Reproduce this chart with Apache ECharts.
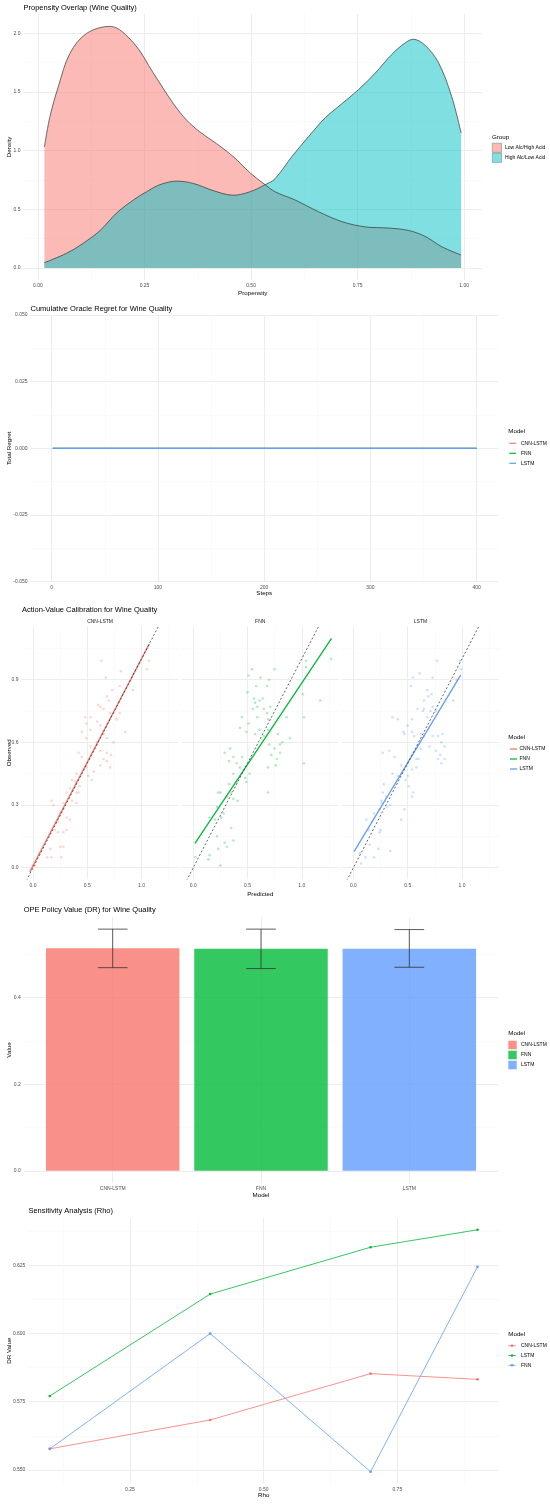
<!DOCTYPE html>
<html><head><meta charset="utf-8">
<script src="https://cdn.jsdelivr.net/npm/echarts@6/dist/echarts.min.js"></script>
<style>html,body{margin:0;padding:0;background:#fff}#c{width:550px;height:1504px}</style>
</head><body><div id="c"></div><script>
// ---------- DATA ----------
// Panel 1: propensity densities
const lowX  = [0.015,0.028,0.048,0.075,0.114,0.169,0.224,0.271,0.318,0.349,0.380,0.419,0.458,0.498,0.533,0.556,0.603,0.658,0.713,0.768,0.822,0.869,0.908,0.948,0.993];
const lowD  = [1.03,1.29,1.55,1.83,2.00,2.06,1.92,1.66,1.40,1.26,1.16,1.06,0.95,0.81,0.71,0.65,0.58,0.48,0.395,0.35,0.34,0.32,0.27,0.18,0.11];
const highX = [0.015,0.067,0.106,0.146,0.185,0.224,0.255,0.286,0.326,0.365,0.411,0.458,0.498,0.533,0.556,0.596,0.635,0.674,0.713,0.752,0.791,0.830,0.862,0.881,0.908,0.940,0.971,0.993];
const highD = [0.045,0.125,0.21,0.32,0.47,0.58,0.65,0.71,0.74,0.72,0.66,0.62,0.65,0.71,0.76,0.95,1.12,1.28,1.40,1.52,1.66,1.82,1.92,1.95,1.90,1.75,1.46,1.15];
const groups = ['Low Alc/High Acid','High Alc/Low Acid'];
const p1XTicks = [0,0.25,0.5,0.75,1], p1XMinor = [0.125,0.375,0.625,0.875];
const p1YTicks = [0,0.5,1,1.5,2], p1YMinor = [0.25,0.75,1.25,1.75];

// Panel 2: cumulative regret
const models = ['CNN-LSTM','FNN','LSTM'];
const regretSteps = [1,400];
const regretCNN = [0,0], regretFNN = [0,0], regretLSTM = [0,0];
const p2XTicks = [0,100,200,300,400], p2XMinor = [50,150,250,350];
const p2YTicks = [-0.05,-0.025,0,0.025,0.05], p2YMinor = [-0.0375,-0.0125,0.0125,0.0375];

// Panel 3: calibration (predicted, observed)
const cnnCalib = [[0.63,0.99],[1.07,0.99],[0.81,0.94],[0.67,0.91],[0.80,0.87],[0.73,0.85],[0.68,0.82],[0.70,0.80],[0.60,0.78],[0.62,0.77],[0.65,0.76],[0.71,0.74],[0.53,0.72],[0.48,0.72],[0.49,0.69],[0.59,0.70],[0.62,0.68],[0.45,0.65],[0.53,0.66],[0.49,0.62],[0.65,0.64],[0.68,0.62],[0.74,0.60],[0.59,0.60],[0.53,0.58],[0.85,0.65],[0.62,0.56],[0.68,0.55],[0.72,0.54],[0.65,0.52],[0.62,0.49],[0.68,0.51],[0.71,0.48],[0.42,0.55],[0.45,0.53],[0.49,0.48],[0.56,0.46],[0.51,0.44],[0.54,0.42],[0.40,0.45],[0.39,0.41],[0.36,0.42],[0.34,0.38],[0.43,0.39],[0.40,0.36],[0.42,0.36],[0.31,0.36],[0.36,0.32],[0.40,0.31],[0.28,0.31],[0.17,0.32],[0.19,0.30],[0.25,0.26],[0.31,0.24],[0.34,0.23],[0.23,0.22],[0.20,0.18],[0.23,0.17],[0.28,0.17],[0.16,0.09],[0.13,0.05],[0.17,0.05],[0.26,0.05],[0.28,0.10],[0.25,0.10],[0.00,0.01],[0.02,0.01],[0.06,0.07],[0.31,0.18],[0.80,0.74],[1.05,0.95],[0.92,0.85],[0.77,0.71]];
const fnnCalib = [[0.51,0.92],[0.54,0.95],[0.62,0.91],[0.70,0.90],[0.75,0.95],[0.68,0.87],[0.58,0.87],[0.56,0.81],[0.64,0.81],[0.61,0.80],[0.57,0.79],[0.59,0.77],[0.65,0.76],[0.68,0.74],[0.71,0.77],[0.55,0.76],[0.45,0.72],[0.51,0.69],[0.43,0.67],[0.49,0.65],[0.57,0.64],[0.61,0.66],[0.65,0.63],[0.69,0.71],[0.69,0.66],[0.86,0.72],[0.89,0.62],[0.78,0.64],[0.80,0.59],[0.82,0.60],[0.70,0.59],[0.75,0.57],[0.72,0.54],[0.77,0.52],[0.76,0.49],[0.80,0.55],[1.02,0.72],[1.02,0.50],[1.01,0.83],[1.04,0.99],[1.04,0.96],[1.17,0.80],[1.27,1.00],[0.34,0.57],[0.37,0.53],[0.29,0.55],[0.33,0.51],[0.40,0.50],[0.45,0.53],[0.43,0.48],[0.37,0.45],[0.40,0.41],[0.49,0.41],[0.52,0.45],[0.48,0.43],[0.33,0.40],[0.35,0.36],[0.31,0.34],[0.37,0.33],[0.41,0.32],[0.25,0.36],[0.23,0.36],[0.22,0.29],[0.26,0.24],[0.15,0.24],[0.20,0.23],[0.28,0.26],[0.35,0.19],[0.37,0.13],[0.29,0.12],[0.31,0.10],[0.22,0.15],[0.23,0.09],[0.14,0.04],[0.15,0.06],[0.25,0.01],[0.02,0.05],[0.69,0.36],[0.69,0.48],[0.59,0.72],[0.50,0.84]];
const lstmCalib = [[0.77,0.99],[0.98,0.99],[0.99,0.95],[0.61,0.93],[0.55,0.91],[0.53,0.87],[0.73,0.91],[0.68,0.85],[0.65,0.80],[0.69,0.82],[0.72,0.83],[0.65,0.76],[0.59,0.76],[0.64,0.75],[0.73,0.77],[0.71,0.75],[0.76,0.75],[0.68,0.72],[0.54,0.71],[0.36,0.72],[0.41,0.71],[0.50,0.68],[0.46,0.65],[0.47,0.64],[0.54,0.65],[0.56,0.63],[0.62,0.64],[0.65,0.63],[0.73,0.63],[0.78,0.63],[0.82,0.64],[0.81,0.60],[0.84,0.58],[0.80,0.54],[0.78,0.52],[0.81,0.50],[0.84,0.52],[0.76,0.56],[0.70,0.58],[0.62,0.57],[0.60,0.52],[0.58,0.52],[0.58,0.48],[0.54,0.47],[0.50,0.44],[0.48,0.42],[0.51,0.39],[0.55,0.36],[0.54,0.34],[0.44,0.49],[0.38,0.53],[0.33,0.56],[0.27,0.55],[0.36,0.45],[0.41,0.44],[0.28,0.40],[0.27,0.36],[0.30,0.34],[0.26,0.32],[0.26,0.31],[0.34,0.30],[0.31,0.29],[0.47,0.28],[0.44,0.23],[0.24,0.28],[0.19,0.26],[0.17,0.22],[0.12,0.23],[0.14,0.18],[0.25,0.18],[0.24,0.17],[0.23,0.09],[0.34,0.08],[0.15,0.11],[0.06,0.07],[0.07,0.02],[0.11,0.05],[0.19,0.05],[0.92,0.80],[0.95,0.90]];
const cnnFit  = [[-0.03,-0.02],[1.07,1.07]];
const fnnFit  = [[0.016,0.117],[1.274,1.098]];
const lstmFit = [[0.006,0.077],[0.988,0.922]];
const identityRef = [[-0.3,-0.3],[1.6,1.6]];
const p3XTicks = [0,0.5,1], p3XMinor = [0.25,0.75,1.25];
const p3YTicks = [0,0.3,0.6,0.9], p3YMinor = [0.15,0.45,0.75,1.05];

// Panel 4: OPE policy value (DR)
const opeValue = [0.514,0.513,0.513];
const opeLow   = [0.469,0.467,0.470];
const opeHigh  = [0.558,0.558,0.557];
const p4YTicks = [0,0.2,0.4], p4YMinor = [0.1,0.3,0.5];

// Panel 5: sensitivity
const rho = [0.1,0.4,0.7,0.9];
const rhoCNN  = [0.5577,0.5683,0.5853,0.5832];
const rhoLSTM = [0.5771,0.6145,0.6317,0.6381];
const rhoFNN  = [0.5577,0.6000,0.5493,0.6245];
const sensModels = ['CNN-LSTM','LSTM','FNN'];
const p5XTicks = [0.25,0.5,0.75], p5XMinor = [0.125,0.375,0.625,0.875];
const p5YTicks = [0.55,0.575,0.6,0.625], p5YMinor = [0.5625,0.5875,0.6125,0.6375];

// ---------- STYLE ----------
const FONT = 'Liberation Sans';
const RED = '#F8766D', GREEN = '#00BA38', BLUE = '#619CFF', TEAL = '#00BFC4';
const colorOf = {'CNN-LSTM':RED,'FNN':GREEN,'LSTM':BLUE};
const sensColors = [RED, GREEN, BLUE];
const MAJ = '#EBEBEB', MIN = '#F4F4F4';

const grids = [
  {left:23.5, top:14.3, width:458.5, height:265.7},   // 0 panel1
  {left:30.5, top:315, width:467.4, height:266.7},    // 1 panel2
  {left:21.5, top:626.4, width:157.1, height:252.8},  // 2 facet CNN-LSTM
  {left:181.7, top:626.4, width:157.1, height:252.8}, // 3 facet FNN
  {left:341.9, top:626.4, width:157.1, height:252.8}, // 4 facet LSTM
  {left:23.7, top:917, width:474.6, height:266},      // 5 panel4
  {left:28.4, top:1217.8, width:470.5, height:265.9}  // 6 panel5
];

const xAxes = [], yAxes = [];
function addAxis(list, kind, grid, min, max, major, minor, fmt, show) {
  const idx = list.length;
  list.push({type:'value', gridIndex:grid, min, max, position: kind==='x'?'bottom':'left',
    axisLine:{show:false}, axisTick:{show:false, customValues:major},
    axisLabel:{show:show, customValues:major, formatter:fmt, color:'#4D4D4D', fontSize:5, fontFamily:FONT, margin:kind==='x'?3.5:3},
    splitLine:{show:true, lineStyle:{color:MAJ, width:0.9}}});
  list.push({type:'value', gridIndex:grid, min, max, position: kind==='x'?'top':'right',
    axisLine:{show:false}, axisTick:{show:false, customValues:minor.length?minor:[min-1]},
    axisLabel:{show:false, customValues:minor.length?minor:[min-1]},
    splitLine:{show:minor.length>0, lineStyle:{color:MIN, width:0.5}}});
  return idx;
}
const f2 = v => v.toFixed(2), f1 = v => v.toFixed(1), f3 = v => v.toFixed(3), f0 = v => String(Math.round(v));

const ax = [];
ax[0] = [addAxis(xAxes,'x',0,-0.034,1.042,p1XTicks,p1XMinor,f2,true), addAxis(yAxes,'y',0,-0.103,2.163,p1YTicks,p1YMinor,f1,true)];
ax[1] = [addAxis(xAxes,'x',1,-19.95,419.95,p2XTicks,p2XMinor,f0,true), addAxis(yAxes,'y',1,-0.05,0.05,p2YTicks,p2YMinor,f3,true)];
for (let k=0;k<3;k++) ax[2+k] = [addAxis(xAxes,'x',2+k,-0.106,1.341,p3XTicks,p3XMinor,f1,true), addAxis(yAxes,'y',2+k,-0.055,1.155,p3YTicks,p3YMinor,f1,k===0)];
ax[5] = [addAxis(xAxes,'x',5,0.4,3.6,[1,2,3],[],v=>models[Math.round(v)-1],true), addAxis(yAxes,'y',5,-0.028,0.586,p4YTicks,p4YMinor,f1,true)];
ax[6] = [addAxis(xAxes,'x',6,0.06,0.94,p5XTicks,p5XMinor,f2,true), addAxis(yAxes,'y',6,0.5449,0.6425,p5YTicks,p5YMinor,f3,true)];

const series = [];
const zip = (a,b) => a.map((v,i)=>[v,b[i]]);
// Panel 1
[[lowX,lowD,RED],[highX,highD,TEAL]].forEach(([xs,ds,c])=>{
  series.push({type:'line', xAxisIndex:ax[0][0], yAxisIndex:ax[0][1], data:zip(xs,ds), smooth:0.35, showSymbol:false,
    lineStyle:{color:'#333', width:0.7}, areaStyle:{color:c, opacity:0.5}, z:3});
});
// Panel 2
[[regretCNN,RED],[regretFNN,GREEN],[regretLSTM,BLUE]].forEach(([vals,c])=>{
  series.push({type:'line', xAxisIndex:ax[1][0], yAxisIndex:ax[1][1], data:zip(regretSteps,vals), showSymbol:false, lineStyle:{color:c, width:1.4}});
});
// Panel 3
[[cnnCalib,cnnFit,RED],[fnnCalib,fnnFit,GREEN],[lstmCalib,lstmFit,BLUE]].forEach(([pts,fit,c],k)=>{
  const xi = ax[2+k][0], yi = ax[2+k][1];
  series.push({type:'scatter', xAxisIndex:xi, yAxisIndex:yi, data:pts, symbolSize:2.6, itemStyle:{color:c, opacity:0.3}});
  series.push({type:'line', xAxisIndex:xi, yAxisIndex:yi, data:fit, showSymbol:false, lineStyle:{color:c, width:1.3}});
  series.push({type:'line', xAxisIndex:xi, yAxisIndex:yi, data:identityRef, showSymbol:false, clip:true, lineStyle:{color:'#222', width:0.7, type:[2,2]}});
});
// Panel 4
const barColors = [RED, GREEN, BLUE];
series.push({type:'bar', xAxisIndex:ax[5][0], yAxisIndex:ax[5][1], barWidth: grids[5].width*0.9/3.2,
  data: models.map((m,i)=>({value:[i+1, opeValue[i]], itemStyle:{color:barColors[i], opacity:0.8}}))});
series.push({type:'custom', xAxisIndex:ax[5][0], yAxisIndex:ax[5][1], data: models.map((m,i)=>[i+1, opeLow[i], opeHigh[i]]),
  renderItem:(params, api)=>{
    const x = api.value(0), lo = api.coord([x, api.value(1)]), hi = api.coord([x, api.value(2)]);
    const hw = api.size([0.1, 0])[0];
    const st = {stroke:'#333', lineWidth:0.8, fill:null};
    return {type:'group', children:[
      {type:'line', shape:{x1:lo[0], y1:lo[1], x2:hi[0], y2:hi[1]}, style:st},
      {type:'line', shape:{x1:lo[0]-hw, y1:lo[1], x2:lo[0]+hw, y2:lo[1]}, style:st},
      {type:'line', shape:{x1:hi[0]-hw, y1:hi[1], x2:hi[0]+hw, y2:hi[1]}, style:st}
    ]};
  }, z:5});
// Panel 5
[[rhoCNN,sensColors[0]],[rhoLSTM,sensColors[1]],[rhoFNN,sensColors[2]]].forEach(([vals,c])=>{
  series.push({type:'line', xAxisIndex:ax[6][0], yAxisIndex:ax[6][1], data:zip(rho,vals), symbol:'circle', symbolSize:2.6, showSymbol:true,
    lineStyle:{color:c, width:0.8}, itemStyle:{color:c}});
});

// ---------- TEXT / LEGENDS ----------
const G = [];
function txt(x,y,s,size,color,align,rot){
  G.push({type:'text', x, y, rotation:rot||0, silent:true,
    style:{text:s, fontSize:size, fontFamily:FONT, fill:color, align:align||'left', verticalAlign:'middle', textAlign:align||'left', textVerticalAlign:'middle'}});
}
function rect(x,y,w,h,fill,op,stroke){
  G.push({type:'rect', silent:true, shape:{x,y,width:w,height:h}, style:{fill, opacity:op, stroke:stroke||null, lineWidth:stroke?0.6:0}});
}
function seg(x1,y1,x2,y2,c,w){
  G.push({type:'line', silent:true, shape:{x1,y1,x2,y2}, style:{stroke:c, lineWidth:w}});
}
function dot(x,y,c){ G.push({type:'circle', silent:true, shape:{cx:x,cy:y,r:1.3}, style:{fill:c}}); }

const TS = 7.5, AS = 6.2, LS = 5;
// titles
txt(23.5, 7.5, 'Propensity Overlap (Wine Quality)', TS, '#000');
txt(30.5, 309, 'Cumulative Oracle Regret for Wine Quality', TS, '#000');
txt(22, 609.5, 'Action-Value Calibration for Wine Quality', TS, '#000');
txt(23.7, 910, 'OPE Policy Value (DR) for Wine Quality', TS, '#000');
txt(28.4, 1211, 'Sensitivity Analysis (Rho)', TS, '#000');
// axis titles
txt(252.7, 293, 'Propensity', AS, '#000', 'center');
txt(9.5, 147, 'Density', AS, '#000', 'center', Math.PI/2);
txt(264.2, 593.3, 'Steps', AS, '#000', 'center');
txt(9.5, 448.3, 'Total Regret', AS, '#000', 'center', Math.PI/2);
txt(260.3, 894, 'Predicted', AS, '#000', 'center');
txt(9.5, 752.8, 'Observed', AS, '#000', 'center', Math.PI/2);
txt(261, 1195, 'Model', AS, '#000', 'center');
txt(9.5, 1050, 'Value', AS, '#000', 'center', Math.PI/2);
txt(263.7, 1495, 'Rho', AS, '#000', 'center');
txt(9.5, 1350.7, 'DR Value', AS, '#000', 'center', Math.PI/2);
// strips
models.forEach((m,k)=>{ const g = grids[2+k]; txt(g.left+g.width/2, 621.7, m, LS, '#1A1A1A', 'center'); });
// legend panel1
txt(492, 137, 'Group', AS, '#000');
rect(492.3,143.2,9.2,9.2,RED,0.5,'#333'); rect(492.3,153.2,9.2,9.2,TEAL,0.5,'#333');
txt(505, 147.8, groups[0], LS, '#000'); txt(505, 157.8, groups[1], LS, '#000');
// legend panel2
txt(508.3, 431.7, 'Model', AS, '#000');
models.forEach((m,i)=>{ const y=443.3+10*i; seg(509.3,y,516,y,colorOf[m],1.2); txt(521,y,m,LS,'#000'); });
// legend panel3
txt(508.3, 737.3, 'Model', AS, '#000');
models.forEach((m,i)=>{ const y=749+10*i; seg(510,y,517,y,colorOf[m],1.3); txt(519.5,y,m,LS,'#000'); });
// legend panel4
txt(508.3, 1033.3, 'Model', AS, '#000');
models.forEach((m,i)=>{ const y=1045+10*i; rect(508.3,y-4.3,8.4,8.6,colorOf[m],0.8); txt(521,y,m,LS,'#000'); });
// legend panel5
txt(508.3, 1334.3, 'Model', AS, '#000');
sensModels.forEach((m,i)=>{ const y=1345.7+9.8*i; seg(508.3,y,515.7,y,sensColors[i],0.8); dot(512,y,sensColors[i]); txt(521,y,m,LS,'#000'); });

const chart = echarts.init(document.getElementById('c'), null, {renderer:'canvas'});
chart.setOption({
  animation:false,
  backgroundColor:'#fff',
  textStyle:{fontFamily:FONT},
  grid: grids.map(g=>Object.assign({containLabel:false}, g)),
  xAxis: xAxes, yAxis: yAxes,
  series, graphic: G
});
</script></body></html>
